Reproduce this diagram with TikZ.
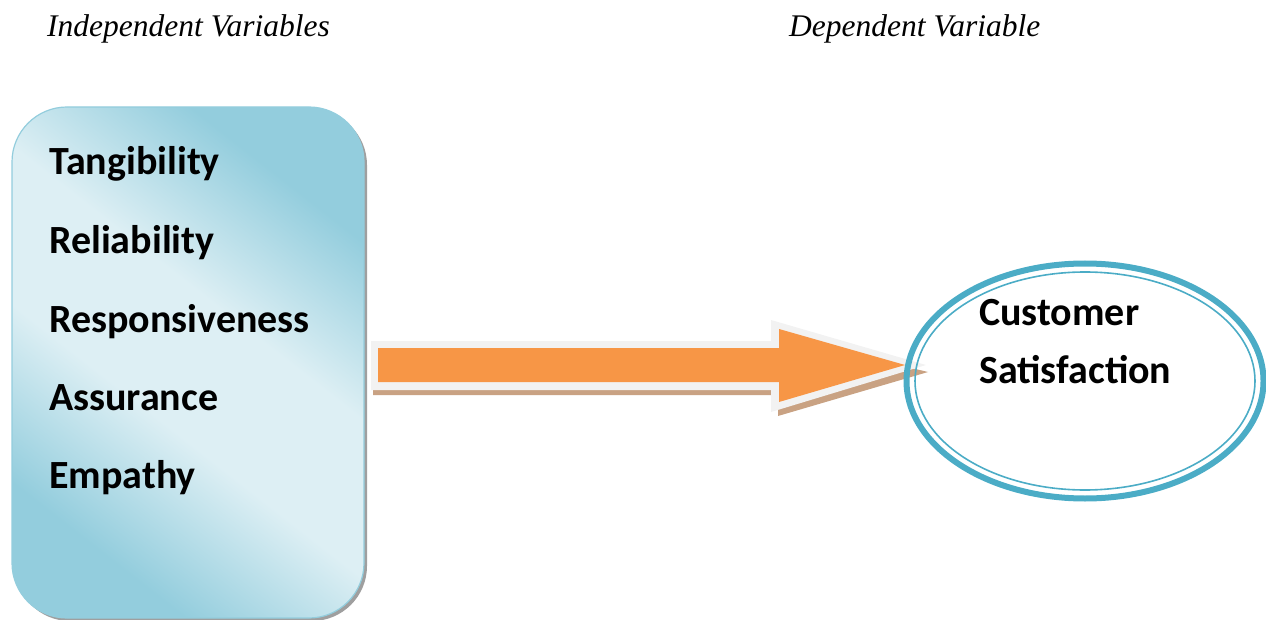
\documentclass[tikz,border=0pt]{standalone}
\usepackage{fontspec}
\setmainfont{Liberation Serif}
\newfontfamily\boxfont{Carlito}
\usetikzlibrary{shapes.geometric}
\definecolor{boxdark}{HTML}{93CDDD}
\definecolor{boxlight}{HTML}{DDEFF4}
\definecolor{cblue}{HTML}{4BACC6}
\definecolor{aorange}{HTML}{F79646}
\definecolor{agray}{HTML}{F2F2F2}
\definecolor{ashadow}{HTML}{C9A283}
\pgfdeclareverticalshading{boxshade}{100bp}{color(0bp)=(boxdark); color(27bp)=(boxdark); color(43bp)=(boxlight); color(57bp)=(boxlight); color(73bp)=(boxdark); color(100bp)=(boxdark)}
\tikzset{
  title/.style={anchor=base west, inner sep=0pt, font=\fontsize{31.5}{33}\selectfont\itshape},
  item/.style={anchor=base west, inner sep=0pt, font=\boxfont\bfseries\fontsize{40}{42}\selectfont},
}
\begin{document}
\begin{tikzpicture}[x=1pt,y=-1pt]
\useasboundingbox (0,0) rectangle (1266,620);
% titles
\node[title] (t1) at (47,37) {Independent Variables};
\node[title] (t2) at (789,37) {Dependent Variable};
% box shadow
\fill[gray!75, rounded corners=55] (15,110) rectangle (367,621);
\shade[rounded corners=55, shading=boxshade, shading angle=-38] (12,107) rectangle (364,618);
\draw[boxdark, line width=1.2, rounded corners=55] (12,107) rectangle (364,618);
\node[item] (v1) at (49,175) {Tangibility};
\node[item] (v2) at (49,254) {Reliability};
\node[item] (v3) at (49,332) {Responsiveness};
\node[item] (v4) at (49,410) {Assurance};
\node[item] (v5) at (49,488) {Empathy};
% arrow
\fill[ashadow] (373,352) -- (778,352) -- (778,336) -- (928,372) -- (778,416) -- (778,395) -- (373,395) -- cycle;
\fill[agray] (371,341) -- (771,341) -- (771,320) -- (926,365) -- (771,412) -- (771,390) -- (371,390) -- cycle;
\fill[aorange] (378,348) -- (779,348) -- (779,329) -- (905,365) -- (779,402) -- (779,382) -- (378,382) -- cycle;
% ellipse
\node[ellipse, draw=cblue, line width=6, minimum width=357, minimum height=235, inner sep=0] (cs) at (1085,381) {};
\draw[cblue, line width=1.6] (cs.center) ellipse [x radius=170, y radius=109];
\node[item] (c1) at (979,326) {Customer};
\node[item] (c2) at (979,383) {Satisfaction};
\end{tikzpicture}
\end{document}
